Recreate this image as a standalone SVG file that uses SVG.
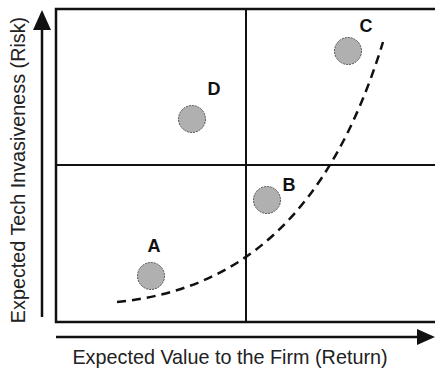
<svg xmlns="http://www.w3.org/2000/svg" width="435" height="372" viewBox="0 0 435 372">
<style>
.frame{fill:none;stroke:#111;stroke-width:2.5}
.grid{stroke:#111;stroke-width:2}
.axis{stroke:#111;stroke-width:2.5;fill:none}
.pt{fill:#b0b0b0;stroke:#555;stroke-width:1;stroke-dasharray:2 1}
.lbl{font-family:"Liberation Sans",Arial,sans-serif;font-weight:bold;font-size:18px;fill:#111;text-anchor:middle}
.ax{font-family:"Liberation Sans",Arial,sans-serif;font-size:19.8px;fill:#222;text-anchor:middle}
.curve{fill:none;stroke:#111;stroke-width:2.5;stroke-dasharray:9 6}
</style>
<g id="frame">
<rect class="frame" x="56" y="9" width="390" height="313"/>
<line class="grid" x1="246" y1="9" x2="246" y2="322"/>
<line class="grid" x1="56" y1="165" x2="435" y2="165"/>
</g>
<g id="connectors">
<line class="axis" x1="42" y1="317" x2="42" y2="26"/>
<polygon points="42,10 33,30 51,30" fill="#111"/>
<line class="axis" x1="56" y1="337" x2="420" y2="337"/>
<polygon points="435,337 417,329 417,345" fill="#111"/>
<path class="curve" d="M117,302 C240,290 330,215 383,42"/>
</g>
<g id="A"><circle class="pt" cx="151" cy="276" r="13.5"/><text class="lbl" x="154" y="252">A</text></g>
<g id="B"><circle class="pt" cx="267" cy="200" r="13.5"/><text class="lbl" x="289" y="191">B</text></g>
<g id="C"><circle class="pt" cx="348" cy="51" r="13.5"/><text class="lbl" x="366" y="32">C</text></g>
<g id="D"><circle class="pt" cx="192" cy="119" r="13.5"/><text class="lbl" x="214" y="95">D</text></g>
<text class="ax" x="230" y="364">Expected Value to the Firm (Return)</text>
<text class="ax" transform="translate(25,170) rotate(-90)">Expected Tech Invasiveness (Risk)</text>
</svg>
